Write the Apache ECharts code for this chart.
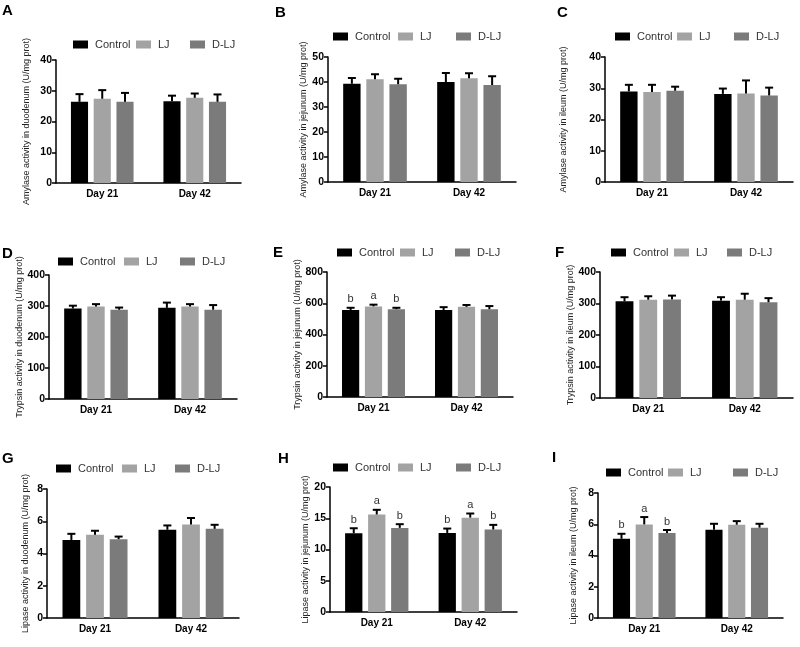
<!DOCTYPE html>
<html>
<head>
<meta charset="utf-8">
<script src="https://cdn.jsdelivr.net/npm/echarts@6/dist/echarts.min.js"></script>
<style>
html,body{margin:0;padding:0;background:#fff;}
#chart{width:800px;height:647px;}
</style>
</head>
<body>
<div id="chart"></div>
<script>
// ---------- DATA ----------
const categories = ['Day 21', 'Day 42'];
const groups = ['Control', 'LJ', 'D-LJ'];
const panelLetters = ['A', 'B', 'C', 'D', 'E', 'F', 'G', 'H', 'I'];

// each row: one group (Control, LJ, D-LJ); columns: Day 21, Day 42
const amyDuoMean = [[26.4, 26.6], [27.4, 27.7], [26.4, 26.4]];
const amyDuoErr  = [[2.5, 1.8], [2.8, 1.4], [2.9, 2.4]];
const amyJejMean = [[39.3, 40.0], [41.1, 41.5], [39.1, 38.8]];
const amyJejErr  = [[2.3, 3.6], [2.0, 2.0], [2.2, 3.5]];
const amyIleMean = [[29.0, 28.2], [28.8, 28.3], [29.2, 27.7]];
const amyIleErr  = [[2.1, 1.7], [2.3, 4.2], [1.3, 2.5]];
const trpDuoMean = [[292, 294], [298, 298], [288, 288]];
const trpDuoErr  = [[9, 17], [8, 8], [7, 15]];
const trpJejMean = [[557, 557], [580, 577], [562, 562]];
const trpJejErr  = [[14, 18], [11, 12], [9, 20]];
const trpIleMean = [[307, 309], [312, 312], [313, 304]];
const trpIleErr  = [[13, 11], [11, 19], [12, 13]];
const lipDuoMean = [[4.84, 5.47], [5.16, 5.80], [4.89, 5.53]];
const lipDuoErr  = [[0.38, 0.27], [0.25, 0.40], [0.16, 0.25]];
const lipJejMean = [[12.6, 12.65], [15.6, 15.1], [13.46, 13.2]];
const lipJejErr  = [[0.80, 0.70], [0.75, 0.66], [0.59, 0.74]];
const lipIleMean = [[5.07, 5.65], [5.99, 5.97], [5.44, 5.78]];
const lipIleErr  = [[0.32, 0.38], [0.47, 0.23], [0.19, 0.25]];

// significance letters (group x day)
const trpJejSig = [['b', ''], ['a', ''], ['b', '']];
const lipJejSig = [['b', 'b'], ['a', 'a'], ['b', 'b']];
const lipIleSig = [['b', ''], ['a', ''], ['b', '']];

const yNames = [
  'Amylase activity in duodenum (U/mg prot)',
  'Amylase activity in jejunum (U/mg prot)',
  'Amylase activity in ileum (U/mg prot)',
  'Trypsin activity in duodenum (U/mg prot)',
  'Trypsin activity in jejunum (U/mg prot)',
  'Trypsin activity in ileum (U/mg prot)',
  'Lipase activity in duodenum (U/mg prot)',
  'Lipase activity in jejunum (U/mg prot)',
  'Lipase activity in ileum (U/mg prot)'
];
const yMax = [40, 50, 40, 400, 800, 400, 8, 20, 8];
const yInterval = [10, 10, 10, 100, 200, 100, 2, 5, 2];

const means = [amyDuoMean, amyJejMean, amyIleMean, trpDuoMean, trpJejMean, trpIleMean, lipDuoMean, lipJejMean, lipIleMean];
const errs = [amyDuoErr, amyJejErr, amyIleErr, trpDuoErr, trpJejErr, trpIleErr, lipDuoErr, lipJejErr, lipIleErr];
const sigs = [null, null, null, null, trpJejSig, null, null, lipJejSig, lipIleSig];

// ---------- LAYOUT / STYLE ----------
const colors = ['#000000', '#a3a3a3', '#7b7b7b'];
const FONT = 'Arial, "Liberation Sans", sans-serif';
const BW = 0.185, BG = 0.33;
const grids = [
  {left: 56, top: 60, width: 185, height: 123},
  {left: 328, top: 57, width: 188, height: 125},
  {left: 605, top: 57, width: 188, height: 125},
  {left: 49, top: 275, width: 188, height: 124},
  {left: 327, top: 272, width: 186, height: 125},
  {left: 600, top: 272, width: 193, height: 126},
  {left: 47, top: 489, width: 192, height: 129},
  {left: 330, top: 487, width: 187, height: 125},
  {left: 598, top: 493, width: 185, height: 125}
];
// legend swatch left x for each group, and centre y, per panel
const legendX = [[73, 136, 190], [333, 398, 456], [615, 677, 734], [58, 124, 180], [337, 400, 455], [611, 674, 727], [56, 122, 175], [333, 398, 456], [606, 668, 733]];
const legendY = [46, 38, 38, 263, 254, 254, 470, 469, 474];
const titlePos = [[2, 3], [275, 5], [557, 5], [2, 246], [273, 245], [555, 245], [2, 451], [278, 451], [552, 450]];
const nameGaps = [25, 17, 37, 20, 19, 16, 17, 20, 20];

const option = {
  animation: false,
  backgroundColor: '#ffffff',
  textStyle: {fontFamily: FONT},
  title: [], legend: [], grid: [], xAxis: [], yAxis: [], series: []
};

for (let p = 0; p < 9; p++) {
  option.title.push({
    text: panelLetters[p], left: titlePos[p][0], top: titlePos[p][1], padding: 0,
    textStyle: {fontSize: 15, fontWeight: 'bold', color: '#000', fontFamily: FONT}
  });
  for (let g = 0; g < 3; g++) {
    option.legend.push({
      data: [groups[g]], left: legendX[p][g], top: legendY[p] - 7, padding: 0,
      itemWidth: 15, itemHeight: 8, itemGap: 0, selectedMode: false,
      icon: 'rect',
      textStyle: {fontSize: 11, color: '#333', fontFamily: FONT, padding: [0, 0, 0, 2]}
    });
  }
  option.grid.push(Object.assign({containLabel: false}, grids[p]));
  option.xAxis.push({
    type: 'category', gridIndex: p, data: categories,
    axisLine: {lineStyle: {color: '#000', width: 1.5}},
    axisTick: {alignWithLabel: true, length: 4, lineStyle: {color: '#000', width: 1.5}},
    axisLabel: {color: '#000', fontWeight: 'bold', fontSize: 10, margin: 6, fontFamily: FONT},
    splitLine: {show: false}
  });
  option.yAxis.push({
    type: 'value', gridIndex: p, min: 0, max: yMax[p], interval: yInterval[p],
    name: yNames[p], nameLocation: 'middle', nameRotate: 90, nameGap: nameGaps[p],
    nameTextStyle: {fontSize: 9, color: '#222', fontFamily: FONT},
    axisLine: {show: true, lineStyle: {color: '#000', width: 1.5}},
    axisTick: {show: true, length: 4, lineStyle: {color: '#000', width: 1.5}},
    axisLabel: {color: '#000', fontWeight: 'bold', fontSize: 10.5, margin: 4, fontFamily: FONT},
    splitLine: {show: false}
  });
  for (let g = 0; g < 3; g++) {
    option.series.push({
      type: 'bar', name: groups[g], xAxisIndex: p, yAxisIndex: p,
      data: means[p][g], barWidth: (BW * 100) + '%', barGap: (BG * 100) + '%',
      itemStyle: {color: colors[g]}, z: 2
    });
  }
  for (let g = 0; g < 3; g++) {
    const gi = g, pi = p;
    const data = categories.map(function (c, d) { return [d, means[pi][gi][d], errs[pi][gi][d]]; });
    option.series.push({
      type: 'custom', name: 'err' + p + '_' + g, xAxisIndex: p, yAxisIndex: p,
      data: data, z: 5, silent: true,
      renderItem: function (params, api) {
        const xi = api.value(0), m = api.value(1), e = api.value(2);
        const base = api.coord([xi, m]);
        const top = api.coord([xi, m + e]);
        const band = api.size([1, 0])[0];
        const bw = band * BW, gap = bw * BG;
        const total = 3 * bw + 2 * gap;
        const cx = base[0] - total / 2 + bw / 2 + gi * (bw + gap);
        const children = [
          {type: 'line', shape: {x1: cx, y1: base[1], x2: cx, y2: top[1]}, style: {stroke: '#000', lineWidth: 2}},
          {type: 'line', shape: {x1: cx - 4, y1: top[1], x2: cx + 4, y2: top[1]}, style: {stroke: '#000', lineWidth: 2}}
        ];
        const sig = sigs[pi];
        if (sig && sig[gi][params.dataIndex]) {
          children.push({
            type: 'text',
            style: {text: sig[gi][params.dataIndex], x: cx, y: top[1] - 3, textAlign: 'center', textVerticalAlign: 'bottom',
                    fontSize: 11, fill: '#333', fontFamily: FONT}
          });
        }
        return {type: 'group', children: children};
      }
    });
  }
}

const chart = echarts.init(document.getElementById('chart'), null, {renderer: 'canvas'});
chart.setOption(option);
</script>
</body>
</html>
